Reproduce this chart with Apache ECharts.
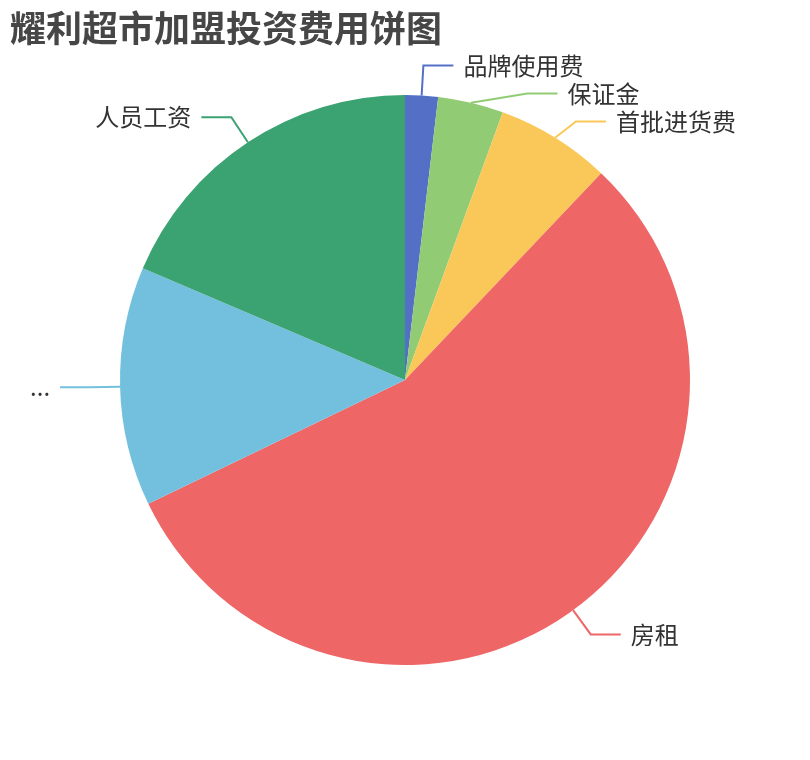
<!DOCTYPE html>
<html>
<head>
<meta charset="utf-8">
<script src="https://cdn.jsdelivr.net/npm/echarts@6/dist/echarts.min.js"></script>
<style>
html,body{margin:0;padding:0;background:#fff;}
#main{width:810px;height:760px;}
</style>
</head>
<body>
<div id="main"></div>
<script>
const titleText = '耀利超市加盟投资费用饼图';
const categories = ['品牌使用费', '保证金', '首批进货费', '房租', '装修及设备购置费用', '人员工资'];
const values = [10000, 20000, 35000, 300000, 73000, 100000];
const colors = ['#5470c6', '#91cc75', '#fac858', '#ee6666', '#73c0de', '#3ba272'];

const chart = echarts.init(document.getElementById('main'));
chart.setOption({
  animation: false,
  color: colors,
  title: {
    text: titleText,
    left: 10,
    top: 10,
    padding: 0,
    textStyle: { fontSize: 36, fontWeight: 'bold', color: '#464646', fontFamily: 'Noto Sans CJK SC' }
  },
  series: [{
    type: 'pie',
    radius: '75%',
    center: ['50%', '50%'],
    startAngle: 90,
    clockwise: true,
    data: categories.map((n, i) => ({ name: n, value: values[i] })),
    itemStyle: { borderWidth: 0 },
    label: {
      show: true,
      position: 'outside',
      fontSize: 24,
      lineHeight: 26,
      color: '#333',
      fontFamily: 'Noto Sans CJK SC',
      bleedMargin: 20,
      distanceToLabelLine: 10
    },
    labelLine: {
      show: true,
      length: 30,
      length2: 30,
      lineStyle: { width: 2 }
    }
  }]
});
</script>
</body>
</html>
